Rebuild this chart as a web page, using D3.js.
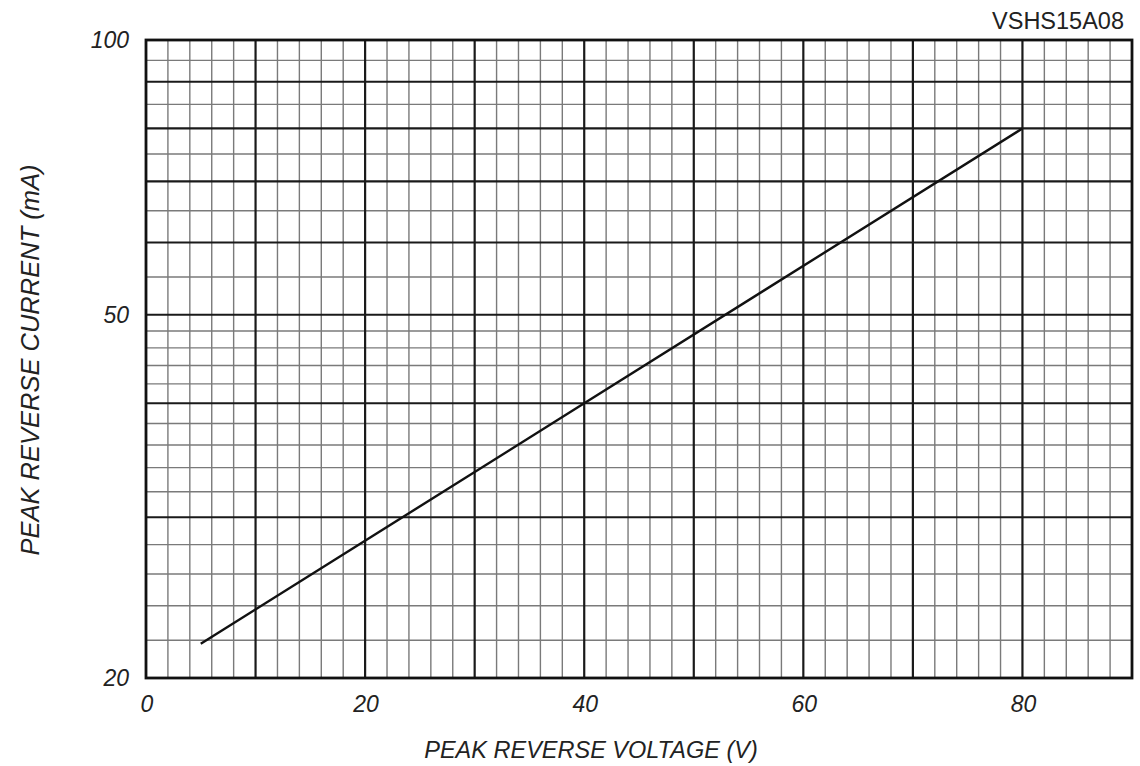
<!DOCTYPE html>
<html>
<head>
<meta charset="utf-8">
<script src="https://cdn.jsdelivr.net/npm/d3@7"></script>
<style>
  body { margin: 0; background: #fff; }
  svg { display: block; font-family: "Liberation Sans", Arial, sans-serif; }
</style>
</head>
<body>
<svg width="1140" height="766"></svg>
<script>
// curve data
const voltage = [5, 40, 80]
const current = [21.8, 40, 80]

// grid / tick definitions
const xMajor = [10, 20, 30, 40, 50, 60, 70, 80]
const xMinor = d3.range(2, 90, 2).filter(v => v % 10 != 0)
const xLabels = [0, 20, 40, 60, 80]
const yMajor = [30, 40, 50, 60, 70, 80, 90]
const yMinor = [22, 24, 26, 28, 32, 34, 36, 38, 42, 44, 46, 48, 55, 65, 75, 85, 95]
const yLabels = [20, 50, 100]

const svg = d3.select("svg")

const x = d3.scaleLinear().domain([0, 90]).range([146, 1132])
const y = d3.scaleLog().domain([20, 100]).range([678, 40])

// minor grid
svg.append("g")
    .selectAll("line")
    .data(xMinor)
    .enter()
    .append("line")
    .attr("x1", d => x(d))
    .attr("x2", d => x(d))
    .attr("y1", y(100))
    .attr("y2", y(20))
    .style("stroke", "#7a7a7a")
    .style("stroke-width", 1.4)

svg.append("g")
    .selectAll("line")
    .data(yMinor)
    .enter()
    .append("line")
    .attr("x1", x(0))
    .attr("x2", x(90))
    .attr("y1", d => y(d))
    .attr("y2", d => y(d))
    .style("stroke", "#7a7a7a")
    .style("stroke-width", 1.4)

// major grid
svg.append("g")
    .selectAll("line")
    .data(xMajor)
    .enter()
    .append("line")
    .attr("x1", d => x(d))
    .attr("x2", d => x(d))
    .attr("y1", y(100))
    .attr("y2", y(20))
    .style("stroke", "#1a1a1a")
    .style("stroke-width", 2.2)

svg.append("g")
    .selectAll("line")
    .data(yMajor)
    .enter()
    .append("line")
    .attr("x1", x(0))
    .attr("x2", x(90))
    .attr("y1", d => y(d))
    .attr("y2", d => y(d))
    .style("stroke", "#1a1a1a")
    .style("stroke-width", 2.2)

// frame
svg.append("rect")
    .attr("x", x(0))
    .attr("y", y(100))
    .attr("width", x(90) - x(0))
    .attr("height", y(20) - y(100))
    .style("fill", "none")
    .style("stroke", "#111")
    .style("stroke-width", 2.8)

// curve
const line = d3.line()
    .x((d, i) => x(voltage[i]))
    .y(d => y(d))

svg.append("path")
    .datum(current)
    .attr("d", line)
    .style("fill", "none")
    .style("stroke", "#111")
    .style("stroke-width", 2.4)

// tick labels
svg.append("g")
    .selectAll("text")
    .data(xLabels)
    .enter()
    .append("text")
    .attr("x", d => x(d) + 1)
    .attr("y", 712)
    .attr("text-anchor", "middle")
    .style("font-size", "23px")
    .style("font-style", "italic")
    .style("fill", "#222")
    .text(d => d)

svg.append("g")
    .selectAll("text")
    .data(yLabels)
    .enter()
    .append("text")
    .attr("x", 129)
    .attr("y", d => y(d) + 8)
    .attr("text-anchor", "end")
    .style("font-size", "23px")
    .style("font-style", "italic")
    .style("fill", "#222")
    .text(d => d)

// axis titles
svg.append("text")
    .attr("x", 591)
    .attr("y", 758)
    .attr("text-anchor", "middle")
    .style("font-size", "23.5px")
    .style("font-style", "italic")
    .style("fill", "#222")
    .text("PEAK REVERSE VOLTAGE (V)")

svg.append("text")
    .attr("transform", "translate(39,360) rotate(-90)")
    .attr("text-anchor", "middle")
    .style("font-size", "25.5px")
    .style("font-style", "italic")
    .style("fill", "#222")
    .text("PEAK REVERSE CURRENT (mA)")

svg.append("text")
    .attr("x", 1124)
    .attr("y", 29)
    .attr("text-anchor", "end")
    .style("font-size", "23.5px")
    .style("fill", "#222")
    .text("VSHS15A08")
</script>
</body>
</html>
